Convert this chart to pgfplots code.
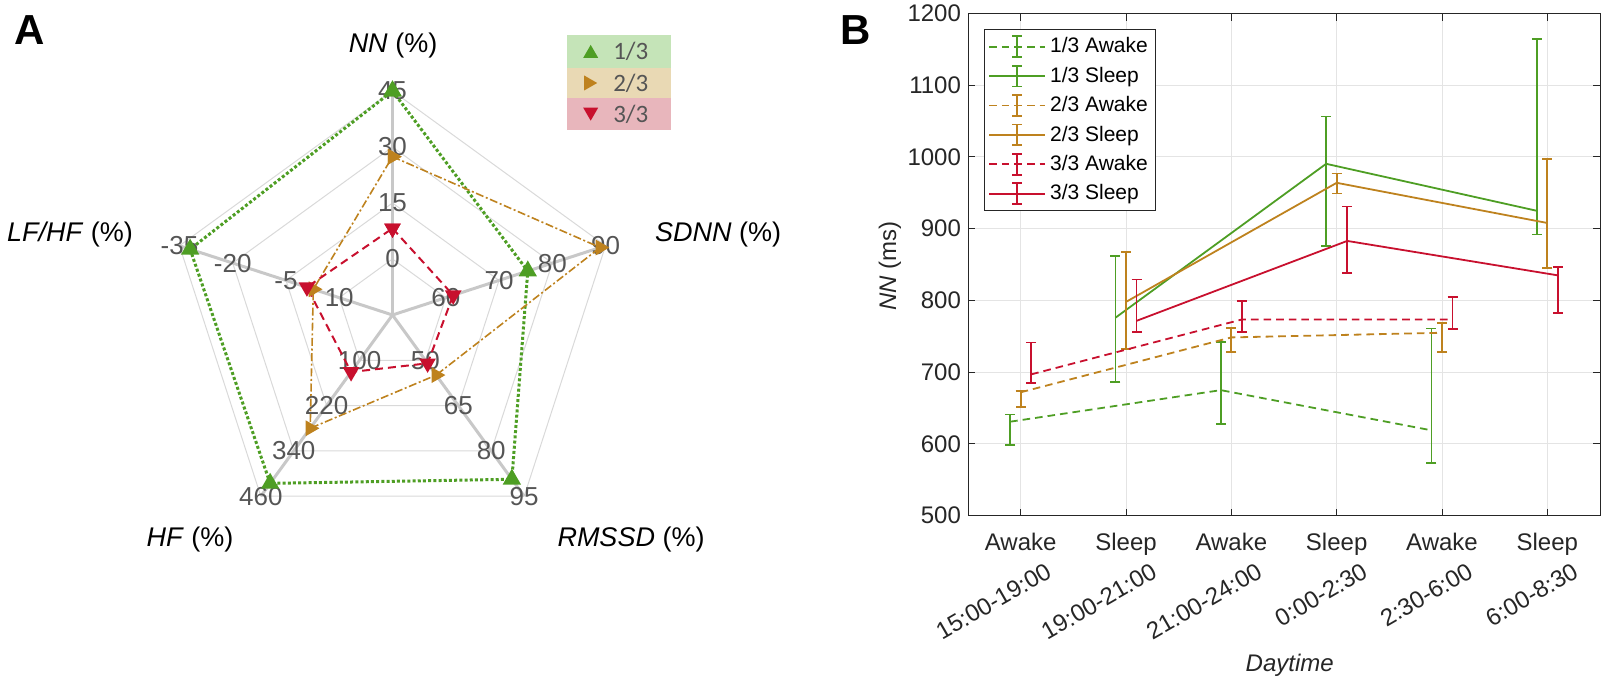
\documentclass[border=0pt]{standalone}
\usepackage{fontspec}
\setmainfont{Liberation Sans}
\newfontfamily\carlito{Carlito}
\usepackage{pgfplots}
\usepackage{pgfplotstable}
\pgfplotsset{compat=1.18}
\usepgfplotslibrary{polar}

\definecolor{cg}{RGB}{78,158,36}
\definecolor{cb}{RGB}{190,130,30}
\definecolor{cr}{RGB}{200,16,46}
\definecolor{bgg}{RGB}{197,228,184}
\definecolor{bgb}{RGB}{233,217,180}
\definecolor{bgr}{RGB}{232,182,188}
\definecolor{labgray}{RGB}{85,85,85}
\definecolor{spoke}{RGB}{200,200,200}
\definecolor{ring}{RGB}{217,217,217}
\definecolor{mgray}{RGB}{38,38,38}
\definecolor{gridc}{RGB}{228,228,228}

\tikzset{lab/.style={font=\fontsize{13}{15}\selectfont, text=labgray, inner sep=0pt}}

% radar: angle of spoke, value, value at centre, value per ring
\pgfplotstableread{
ang val base step
90 45 -15 15
18 75.4 50 10
306 89.4 35 15
234 426 -20 120
162 -32 25 -15
90 45 -15 15
}\radarG
\pgfplotstableread{
ang val base step
90 27.4 -15 15
18 89 50 10
306 54.9 35 15
234 280 -20 120
162 2.7 25 -15
90 27.4 -15 15
}\radarB
\pgfplotstableread{
ang val base step
90 8.2 -15 15
18 61.4 50 10
306 51 35 15
234 131 -20 120
162 0.9 25 -15
90 8.2 -15 15
}\radarR

% NN (ms) with asymmetric error bars
\pgfplotstableread{
x y ep em
0.9 631 10 33
2.9 675 67 47
4.9 619 142 45
}\gAwake
\pgfplotstableread{
x y ep em
1.9 776 86 90
3.9 990.5 66 114.5
5.9 925 240 33
}\gSleep
\pgfplotstableread{
x y ep em
1 672 2 20
3 748.5 13 20
5 755 14 27
}\bAwake
\pgfplotstableread{
x y ep em
2 798 70 66
4 964 13 15
6 908 89 63
}\bSleep
\pgfplotstableread{
x y ep em
1.1 697 44.5 12
3.1 773.5 25.5 17.5
5.1 773.5 31 13.5
}\rAwake
\pgfplotstableread{
x y ep em
2.1 771.6 57.5 15.5
4.1 883 48 45
6.1 835 12 53
}\rSleep

\begin{document}
\begin{tikzpicture}

\node[font=\bfseries\fontsize{21}{24}\selectfont] at (15pt,327pt) {A};
\node[font=\bfseries\fontsize{21}{24}\selectfont] at (428pt,327pt) {B};

% ---------- panel A ----------
\begin{polaraxis}[
  at={(196.25pt,184.5pt)}, anchor=center,
  scale only axis, width=224pt, height=224pt,
  xmin=0, xmax=360, ymin=0, ymax=4,
  enlargelimits=false, hide axis, clip=false,
]
  % pentagon rings
  \addplot[ring, line width=0.5pt] coordinates {(90,1) (18,1) (306,1) (234,1) (162,1) (90,1)};
  \addplot[ring, line width=0.5pt] coordinates {(90,2) (18,2) (306,2) (234,2) (162,2) (90,2)};
  \addplot[ring, line width=0.5pt] coordinates {(90,3) (18,3) (306,3) (234,3) (162,3) (90,3)};
  \addplot[ring, line width=0.5pt] coordinates {(90,4) (18,4) (306,4) (234,4) (162,4) (90,4)};
  % spokes
  \addplot[spoke, line width=1.5pt] coordinates {(90,0) (90,4)};
  \addplot[spoke, line width=1.5pt] coordinates {(18,0) (18,4)};
  \addplot[spoke, line width=1.5pt] coordinates {(306,0) (306,4)};
  \addplot[spoke, line width=1.5pt] coordinates {(234,0) (234,4)};
  \addplot[spoke, line width=1.5pt] coordinates {(162,0) (162,4)};
  % ring labels
  \node[lab] at (axis cs:90,1) {0};
  \node[lab] at (axis cs:90,2) {15};
  \node[lab] at (axis cs:90,3) {30};
  \node[lab] at (axis cs:90,4) {45};
  \node[lab] at (axis cs:18,1) {60};
  \node[lab] at (axis cs:18,2) {70};
  \node[lab] at (axis cs:18,3) {80};
  \node[lab] at (axis cs:18,4) {90};
  \node[lab] at (axis cs:306,1) {50};
  \node[lab] at (axis cs:306,2) {65};
  \node[lab] at (axis cs:306,3) {80};
  \node[lab] at (axis cs:306,4) {95};
  \node[lab] at (axis cs:234,1) {100};
  \node[lab] at (axis cs:234,2) {220};
  \node[lab] at (axis cs:234,3) {340};
  \node[lab] at (axis cs:234,4) {460};
  \node[lab] at (axis cs:162,1) {10};
  \node[lab] at (axis cs:162,2) {-5};
  \node[lab] at (axis cs:162,3) {-20};
  \node[lab] at (axis cs:162,4) {-35};
  % groups
  \addplot[cg, line width=1.5pt, dash pattern=on 1.5pt off 1.1pt,
    mark=triangle*, mark size=3.8pt, mark options={solid}]
    table[x=ang, y expr={(\thisrow{val}-\thisrow{base})/\thisrow{step}}] {\radarG};
  \addplot[cb, line width=0.8pt, dash pattern=on 4pt off 1.3pt on 1pt off 1.3pt,
    mark=triangle*, mark size=3.8pt, mark options={solid, rotate=-90}]
    table[x=ang, y expr={(\thisrow{val}-\thisrow{base})/\thisrow{step}}] {\radarB};
  \addplot[cr, line width=1pt, dash pattern=on 4pt off 2.5pt,
    mark=triangle*, mark size=3.8pt, mark options={solid, rotate=180}]
    table[x=ang, y expr={(\thisrow{val}-\thisrow{base})/\thisrow{step}}] {\radarR};
\end{polaraxis}

% axis titles of the radar
\begin{scope}[every node/.style={font=\fontsize{13.5}{16}\selectfont, text=black}]
  \node at (196.5pt,319pt) {\textit{NN} (\%)};
  \node at (359pt,224.7pt) {\textit{SDNN} (\%)};
  \node at (35pt,224.7pt) {\textit{LF/HF} (\%)};
  \node at (95pt,72.25pt) {\textit{HF} (\%)};
  \node at (315.5pt,72.25pt) {\textit{RMSSD} (\%)};
\end{scope}

% legend of the radar
\fill[bgg] (283.35pt,308.15pt) rectangle (335.35pt,324.5pt);
\fill[bgb] (283.35pt,292.85pt) rectangle (335.35pt,308.15pt);
\fill[bgr] (283.35pt,277pt) rectangle (335.35pt,292.85pt);
\fill[cg] (291.6pt,313.05pt) -- (299.1pt,313.05pt) -- (295.35pt,319.55pt) -- cycle;
\fill[cb] (292.1pt,296.75pt) -- (292.1pt,304.25pt) -- (298.6pt,300.5pt) -- cycle;
\fill[cr] (291.6pt,288.15pt) -- (299.1pt,288.15pt) -- (295.35pt,281.65pt) -- cycle;
\begin{scope}[every node/.style={font=\carlito\fontsize{12.5}{14}\selectfont, text=labgray}]
  \node at (315.4pt,316.3pt) {1/3};
  \node at (315.4pt,300.5pt) {2/3};
  \node at (315.4pt,284.9pt) {3/3};
\end{scope}

% ---------- panel B ----------
\begin{axis}[
  at={(484pt,84.15pt)}, anchor=south west,
  scale only axis, width=316pt, height=251.1pt,
  xmin=0.5, xmax=6.5, ymin=500, ymax=1200,
  xtick={1,2,3,4,5,6},
  xticklabels={Awake,Sleep,Awake,Sleep,Awake,Sleep},
  ytick={500,600,700,800,900,1000,1100,1200},
  extra x ticks={1,2,3,4,5,6},
  extra x tick labels={15:00-19:00,19:00-21:00,21:00-24:00,0:00-2:30,2:30-6:00,6:00-8:30},
  extra x tick style={grid=none, major tick length=0pt,
    xticklabel style={rotate=30, anchor=north east, inner sep=0pt, xshift=1.5pt, yshift=-21.5pt}},
  grid=major,
  grid style={gridc, line width=0.5pt},
  axis line style={mgray, line width=0.5pt},
  tick style={mgray, line width=0.5pt},
  major tick length=3.5pt,
  tick align=inside,
  tick label style={font=\fontsize{12}{14}\selectfont, text=mgray},
  xticklabel style={yshift=-5pt},
  /pgf/number format/assume math mode=true,
  /pgf/number format/1000 sep={},
  xlabel={\textit{Daytime}},
  ylabel={\textit{NN} (ms)},
  label style={font=\fontsize{12}{14}\selectfont, text=mgray},
  xlabel style={at={(axis description cs:0.509,-0.297)}, anchor=center},
  ylabel style={at={(axis description cs:-0.1234,0.497)}, anchor=center},
  legend style={at={(0.025,0.969)}, anchor=north west, draw=mgray, line width=0.5pt,
    font=\fontsize{10.5}{12}\selectfont, row sep=1.6pt, inner sep=2pt},
  legend cell align=left,
  legend image code/.code={
    \draw[#1] (0pt,0pt) -- (28pt,0pt);
    \draw[#1,solid] (14pt,-5.2pt) -- (14pt,5.2pt) (11.5pt,-5.2pt) -- (16.5pt,-5.2pt) (11.5pt,5.2pt) -- (16.5pt,5.2pt);
  },
  awake/.style={line width=0.9pt, dash pattern=on 3.8pt off 2.5pt},
  sleep/.style={line width=0.9pt, solid},
  error bars/y dir=both,
  error bars/y explicit,
  error bars/error bar style={solid, line width=0.9pt},
  error bars/error mark options={solid, line width=0.9pt, mark size=2.5pt, rotate=90},
]
  \addplot[cg, awake, mark=none] table[x=x, y=y, y error plus=ep, y error minus=em] {\gAwake};
  \addlegendentry{1/3 Awake}
  \addplot[cg, sleep, mark=none] table[x=x, y=y, y error plus=ep, y error minus=em] {\gSleep};
  \addlegendentry{1/3 Sleep}
  \addplot[cb, awake, mark=none] table[x=x, y=y, y error plus=ep, y error minus=em] {\bAwake};
  \addlegendentry{2/3 Awake}
  \addplot[cb, sleep, mark=none] table[x=x, y=y, y error plus=ep, y error minus=em] {\bSleep};
  \addlegendentry{2/3 Sleep}
  \addplot[cr, awake, mark=none] table[x=x, y=y, y error plus=ep, y error minus=em] {\rAwake};
  \addlegendentry{3/3 Awake}
  \addplot[cr, sleep, mark=none] table[x=x, y=y, y error plus=ep, y error minus=em] {\rSleep};
  \addlegendentry{3/3 Sleep}
\end{axis}

\pgfresetboundingbox
\useasboundingbox (0,0) rectangle (803pt,342pt);
\end{tikzpicture}
\end{document}
